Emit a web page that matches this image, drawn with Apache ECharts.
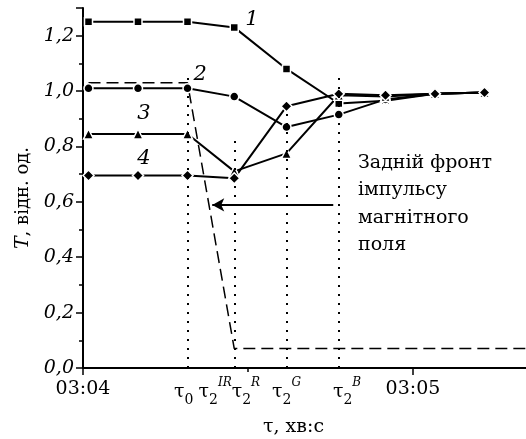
<!DOCTYPE html>
<html>
<head>
<meta charset="utf-8">
<script src="https://cdn.jsdelivr.net/npm/echarts@6/dist/echarts.min.js"></script>
<style>
  html, body { margin: 0; padding: 0; background: #fff; }
  #chart { width: 526px; height: 439px; }
</style>
</head>
<body>
<div id="chart"></div>
<script>
// time in seconds after 03:04
const times = [1, 10, 19, 27.5, 37, 46.5, 55, 64, 73];
const curve1 = [1.25, 1.25, 1.25, 1.23, 1.08, 0.955, 0.965, 0.99, 0.995];
const curve2 = [1.01, 1.01, 1.01, 0.98, 0.87, 0.915, 0.97, 0.99, 0.995];
const curve3 = [0.845, 0.845, 0.845, 0.71, 0.775, 0.985, 0.98, 0.99, 0.995];
const curve4 = [0.695, 0.695, 0.695, 0.685, 0.945, 0.99, 0.985, 0.99, 0.995];

// magnetic field pulse (dashed)
const pulseT = [1, 19, 27.5, 90];
const pulseV = [1.03, 1.03, 0.07, 0.07];

// dotted τ markers
const tauT = [19, 27.5, 37, 46.5];
const tauBottom = [0, 0, 0, 0];
const tauTop = [1.07, 0.835, 0.94, 1.05];
const tauLabelT = [18.3, 26.6, 37, 48];
const tauLabels = [
  '{t|τ}{sub|0}',
  '{t|τ}{sub|2}{sup|IR}{t|τ}{sub|2}{sup|R}',
  '{t|τ}{sub|2}{sup|G}',
  '{t|τ}{sub|2}{sup|B}'
];

// axis ticks
const xLabelT = [0, 60];
const xLabelText = ['03:04', '03:05'];
const xMinorTicks = [30];
const yMajorTicks = [0, 0.2, 0.4, 0.6, 0.8, 1.0, 1.2, 1.3];
const yLabelValues = [0, 0.2, 0.4, 0.6, 0.8, 1.0, 1.2];
const yMinorTicks = [0.1, 0.3, 0.5, 0.7, 0.9, 1.1];

// curve numbers
const numT = [30.7, 21.3, 11.1, 11.1];
const numV = [1.257, 1.06, 0.92, 0.755];
const numText = ['1', '2', '3', '4'];

// arrow to the pulse front
const arrowT = [45.5, 23.5];
const arrowV = 0.589;

const serif = 'DejaVu Serif';
const chart = echarts.init(document.getElementById('chart'));

function curve(data, symbol, size) {
  return {
    type: 'line',
    data: times.map((t, i) => [t, data[i]]),
    symbol: symbol,
    symbolSize: size,
    lineStyle: { color: '#000', width: 2 },
    itemStyle: { color: '#000', borderColor: '#fff', borderWidth: 1.5 },
    z: 3
  };
}

chart.setOption({
  animation: false,
  grid: {
    left: 83, top: 8, width: 495, height: 360,
    containLabel: false, outerBoundsMode: 'none'
  },
  xAxis: [
    {
      type: 'value', min: 0, max: 90,
      axisLine: { lineStyle: { color: '#000', width: 2 } },
      axisTick: { customValues: xLabelT, length: 7, lineStyle: { color: '#000', width: 1.5 } },
      axisLabel: {
        customValues: xLabelT,
        formatter: v => xLabelText[xLabelT.indexOf(v)] || '',
        color: '#000', fontFamily: serif, fontSize: 19, margin: 12
      },
      splitLine: { show: false }
    },
    {
      type: 'value', min: 0, max: 90, position: 'bottom',
      axisLine: { show: false },
      axisTick: { show: true, customValues: xMinorTicks, length: 4, lineStyle: { color: '#000', width: 1.5 } },
      axisLabel: {
        customValues: tauLabelT,
        formatter: v => tauLabels[tauLabelT.indexOf(v)] || '',
        margin: 9,
        rich: {
          t: { fontFamily: serif, fontSize: 19, color: '#000', lineHeight: 30, verticalAlign: 'middle' },
          sub: { fontFamily: serif, fontSize: 14, color: '#000', lineHeight: 20, verticalAlign: 'bottom' },
          sup: { fontFamily: serif, fontSize: 12, fontStyle: 'italic', color: '#000', lineHeight: 23, verticalAlign: 'top' }
        }
      },
      splitLine: { show: false }
    }
  ],
  yAxis: [
    {
      type: 'value', min: 0, max: 1.3,
      name: '{i|T}, відн. од.',
      nameLocation: 'middle', nameGap: 50,
      nameTextStyle: {
        fontFamily: serif, fontSize: 18, color: '#000', padding: [0, 20, 0, 0],
        rich: { i: { fontFamily: serif, fontSize: 19, fontStyle: 'italic', color: '#000' } }
      },
      axisLine: { show: true, lineStyle: { color: '#000', width: 2 } },
      axisTick: { show: true, customValues: yMajorTicks, length: 7, lineStyle: { color: '#000', width: 1.5 } },
      axisLabel: {
        customValues: yLabelValues,
        formatter: v => v.toFixed(1).replace('.', ','),
        color: '#000', fontFamily: serif, fontStyle: 'italic', fontSize: 19, margin: 9
      },
      splitLine: { show: false }
    },
    {
      type: 'value', min: 0, max: 1.3, position: 'left',
      axisLine: { show: false },
      axisTick: { show: true, customValues: yMinorTicks, length: 4, lineStyle: { color: '#000', width: 1.5 } },
      axisLabel: { show: false },
      splitLine: { show: false }
    }
  ],
  graphic: [
    {
      type: 'text', left: 358, top: 149,
      style: {
        text: 'Задній фронт\nімпульсу\nмагнітного\nполя',
        font: '19px "DejaVu Serif"', fill: '#000', lineHeight: 27.5
      }
    },
    {
      type: 'text', left: 263, top: 418,
      style: { text: 'τ, хв:с', font: '19px "DejaVu Serif"', fill: '#000' }
    }
  ],
  series: [
    {
      type: 'line',
      data: pulseT.map((t, i) => [t, pulseV[i]]),
      symbol: 'none',
      lineStyle: { color: '#000', width: 1.5, type: [12, 6] },
      z: 2,
      markLine: {
        silent: true,
        symbol: 'none',
        label: { show: false },
        lineStyle: { color: '#000', width: 2, type: [2, 7] },
        data: tauT.map((t, i) => [{ coord: [t, tauBottom[i]] }, { coord: [t, tauTop[i]] }])
      }
    },
    {
      type: 'line',
      data: [],
      markLine: {
        silent: true,
        symbol: ['none', 'arrow'],
        symbolSize: [10, 12],
        label: { show: false },
        lineStyle: { color: '#000', width: 2, type: 'solid' },
        data: [[{ coord: [arrowT[0], arrowV] }, { coord: [arrowT[1], arrowV] }]]
      }
    },
    curve(curve1, 'rect', 8),
    curve(curve2, 'circle', 9),
    curve(curve3, 'triangle', 10),
    curve(curve4, 'diamond', 11),
    {
      type: 'scatter',
      data: numT.map((t, i) => [t, numV[i], numText[i]]),
      symbol: 'circle',
      symbolSize: 0,
      itemStyle: { opacity: 1 },
      label: {
        show: true, position: 'inside',
        formatter: p => p.value[2],
        fontFamily: serif, fontStyle: 'italic', fontSize: 21, color: '#000'
      },
      z: 4
    }
  ]
});
</script>
</body>
</html>
